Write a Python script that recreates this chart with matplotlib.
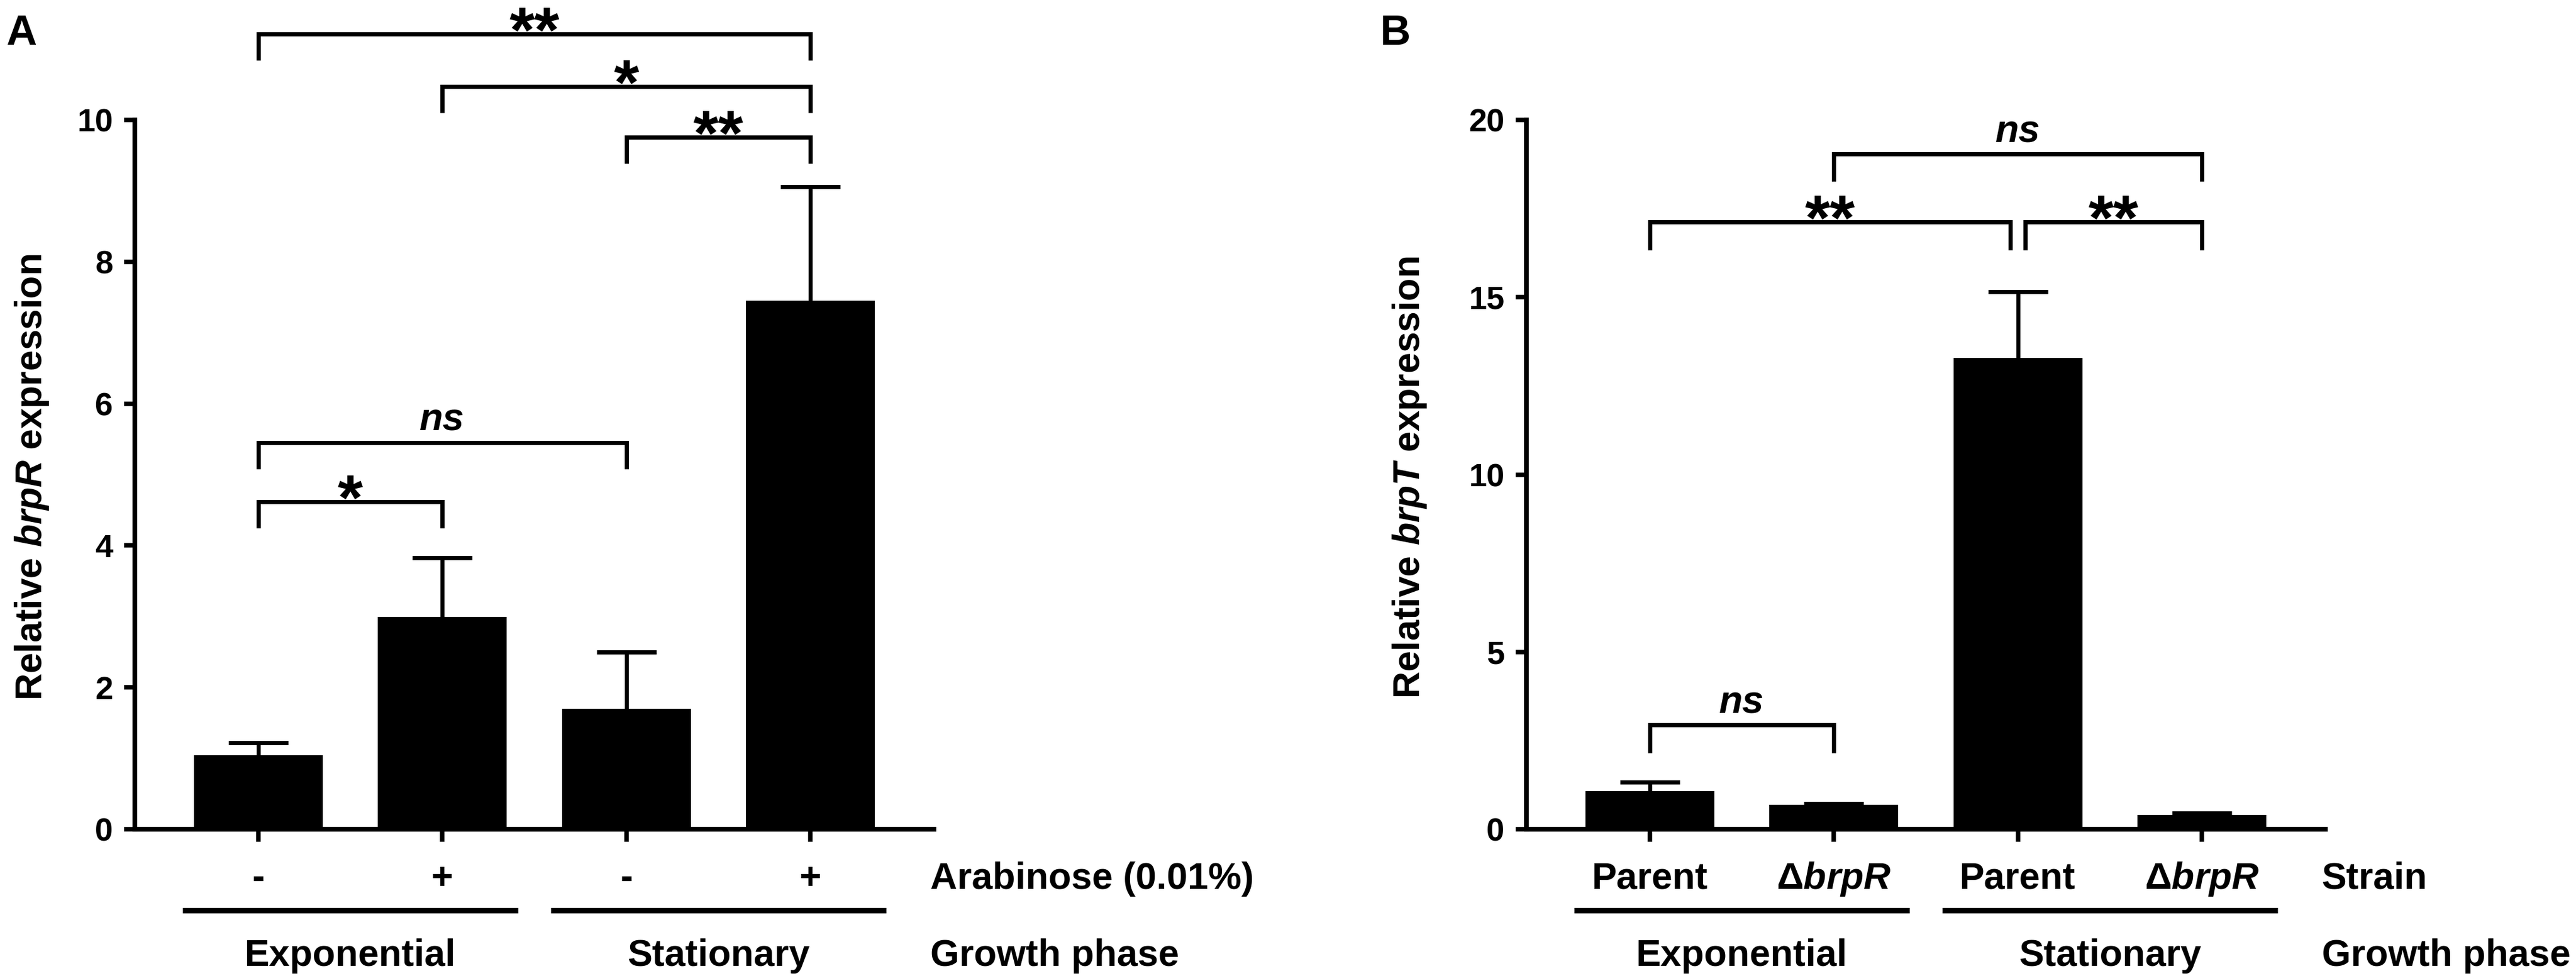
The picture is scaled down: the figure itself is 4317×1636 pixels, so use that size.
import numpy as np
import matplotlib
matplotlib.use('Agg')
import matplotlib.pyplot as plt
from matplotlib import transforms

# ---- données ----
arab_labels = ['-', '+', '-', '+']
brpR_mean = [1.04, 2.99, 1.70, 7.45]
brpR_err = [0.18, 0.84, 0.80, 1.61]

strain_labels = ['Parent', 'Δ$\\mathit{brpR}$', 'Parent', 'Δ$\\mathit{brpR}$']
brpT_mean = [1.08, 0.69, 13.29, 0.41]
brpT_err = [0.25, 0.03, 1.86, 0.04]

phases = ['Exponential', 'Stationary']

# comparaisons : (barre i, barre j, hauteur du crochet, texte)
sig_A = [(0, 3, 11.21, '**'), (1, 3, 10.47, '*'), (2, 3, 9.76, '**'),
         (0, 2, 5.45, 'ns'), (0, 1, 4.62, '*')]
sig_B = [(1, 3, 19.04, 'ns'), (0, 2, 17.12, '**'), (2, 3, 17.12, '**'),
         (0, 1, 2.94, 'ns')]

# ---- style ----
plt.rcParams['font.family'] = ['Liberation Sans', 'DejaVu Sans']
plt.rcParams['font.weight'] = 'bold'
plt.rcParams['mathtext.fontset'] = 'custom'
plt.rcParams['mathtext.it'] = 'Liberation Sans:italic:bold'
plt.rcParams['mathtext.rm'] = 'Liberation Sans:bold'
plt.rcParams['mathtext.bf'] = 'Liberation Sans:bold'

W, H = 4317, 1636
fig = plt.figure(figsize=(W / 300, H / 300), dpi=300)

row1_y = 1 - 1490 / H
row2_y = 1 - 1619 / H
line_y = 1 - 1526 / H


def panel(left, mean, err, ymax, ystep, ylabel, row_labels, row_title,
          sig, leg, nudge, letter, letter_x, ylabel_x):
    ax = fig.add_axes([left, 1 - 1390 / H, 0.3101, 1189 / H])
    x = np.arange(len(mean))
    ax.bar(x, mean, width=0.7, color='k', zorder=2)
    _, caps, _ = ax.errorbar(x, mean, yerr=[np.zeros(len(err)), err],
                             fmt='none', ecolor='k', elinewidth=1.6,
                             capsize=12, capthick=1.7, zorder=3)
    # seulement la barre d'erreur du haut
    for cl in caps:
        if np.allclose(cl.get_ydata(), mean):
            cl.set_visible(False)

    for s in ['top', 'right']:
        ax.spines[s].set_visible(False)
    for s in ['left', 'bottom']:
        ax.spines[s].set_linewidth(1.9)
        ax.spines[s].set_capstyle('projecting')
    ax.set_yticks(np.arange(0, ymax + 1, ystep))
    ax.set_xticks(x)
    ax.set_xticklabels([])
    ax.tick_params(axis='y', length=4.3, width=1.8, pad=4.5, labelsize=13)
    ax.tick_params(axis='x', length=5, width=1.8)

    # crochets de significativité
    for i, j, yb, lab in sig:
        da, db = nudge.get((i, j), (0, 0))
        xa, xb = x[i] + da, x[j] + db
        ax.plot([xa, xa, xb, xb], [yb - leg, yb, yb, yb - leg], color='k',
                lw=1.7, clip_on=False, solid_joinstyle='miter',
                solid_capstyle='butt')
        if lab == 'ns':
            ax.annotate('ns', xy=((xa + xb) / 2, yb), xytext=(0, 4.8),
                        textcoords='offset points', ha='center',
                        va='baseline', fontsize=15.5, fontstyle='italic',
                        annotation_clip=False)
        else:
            ax.annotate(lab, xy=((xa + xb) / 2, yb), xytext=(0, -7.2),
                        textcoords='offset points', ha='center',
                        va='baseline', fontsize=26, annotation_clip=False)

    # étiquettes sous l'axe
    tr = transforms.blended_transform_factory(ax.transData, fig.transFigure)
    for xi, lab in zip(x, row_labels):
        ax.text(xi, row1_y, lab, transform=tr, ha='center', va='baseline',
                fontsize=15)
    ax.text(3.65, row1_y, row_title, transform=tr, ha='left',
            va='baseline', fontsize=15)
    for k, ph in enumerate(phases):
        c0, c1 = x[2 * k], x[2 * k + 1]
        ax.plot([c0 - 0.41, c1 + 0.41], [line_y, line_y], transform=tr,
                color='k', lw=2.2, clip_on=False, solid_capstyle='butt')
        ax.text((c0 + c1) / 2, row2_y, ph, transform=tr, ha='center',
                va='baseline', fontsize=15)
    ax.text(3.65, row2_y, 'Growth phase', transform=tr, ha='left',
            va='baseline', fontsize=15)

    ax.set_xlim(-0.67, 3.67)
    ax.set_ylim(0, ymax)

    fig.text(ylabel_x / W, 1 - 800 / H, ylabel, rotation=90, ha='center',
             va='center', fontsize=15)
    fig.text(letter_x / W, 1 - 57 / H, letter, ha='center', va='center',
             fontsize=17)
    return ax


panel(226 / W, brpR_mean, brpR_err, 10, 2,
      'Relative $\\mathit{brpR}$ expression', arab_labels,
      'Arabinose (0.01%)', sig_A, 0.37, {}, 'A', 36, 54)

panel(2558 / W, brpT_mean, brpT_err, 20, 5,
      'Relative $\\mathit{brpT}$ expression', strain_labels, 'Strain',
      sig_B, 0.78, {(0, 2): (0, -0.04), (2, 3): (0.04, 0)}, 'B', 2338, 2362)

fig.savefig('out.png', dpi=300)
